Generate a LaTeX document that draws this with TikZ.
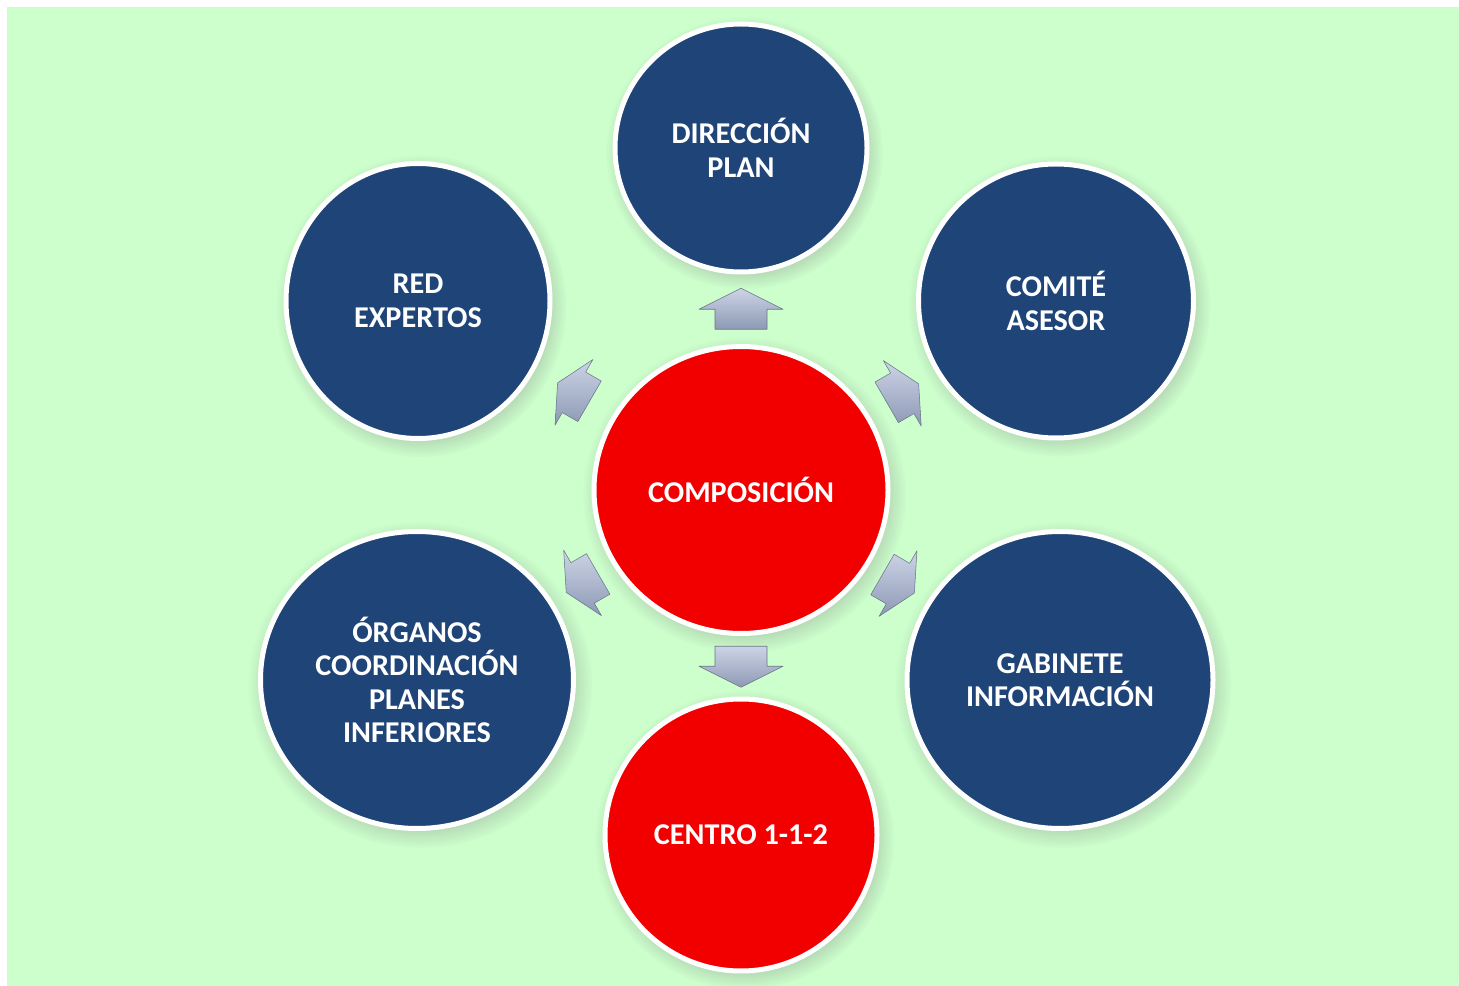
\documentclass[tikz,border=0pt]{standalone}
\usepackage{fontspec}
\setmainfont{Carlito}
\usetikzlibrary{shapes.geometric,shadows,calc}
\definecolor{fondo}{HTML}{CCFFCC}
\definecolor{azul}{HTML}{1F4478}
\definecolor{rojo}{HTML}{F20000}
\definecolor{flechaC}{HTML}{CDD4E6}
\definecolor{flechaO}{HTML}{8D99B5}
\def\px{0.2mm}
\tikzset{
  circulo/.style={ellipse, draw=white, line width=1mm, inner sep=0pt, align=center,
    text=white, font=\fontsize{17.2}{19}\selectfont\bfseries,
    circular drop shadow={shadow xshift=0.6mm, shadow yshift=-0.9mm, opacity=0.35}},
  azulc/.style={circulo, fill=azul},
  rojoc/.style={circulo, fill=rojo},
  pics/flecha/.style={code={
    \draw[flechaO!75!black, line width=0.3pt, line join=round, top color=flechaC, bottom color=flechaO]
      (-20,-26)--(0,-26)--(0,-42)--(21,0)--(0,42)--(0,26)--(-20,26)--cycle;}}
}
\begin{document}
\begin{tikzpicture}[x=\px, y=\px]
\useasboundingbox (0,0) rectangle (1459,-986);
\fill[fondo] (7,-7) rectangle (1459,-986);
\node[rojoc, minimum width=294*\px, minimum height=287*\px] (comp) at (741,-490) {COMPOSICIÓN};
\node[azulc, minimum width=252*\px, minimum height=248*\px] (dir) at (741,-148) {DIRECCIÓN\\PLAN};
\node[azulc, minimum width=275*\px, minimum height=274*\px] (com) at (1056,-301) {COMITÉ\\ASESOR};
\node[azulc, minimum width=264*\px, minimum height=275*\px] (red) at (418,-301) {RED\\EXPERTOS};
\node[azulc, minimum width=306*\px, minimum height=297*\px] (gab) at (1060,-680) {GABINETE\\INFORMACIÓN};
\node[azulc, minimum width=313*\px, minimum height=297*\px] (org) at (417,-680) {ÓRGANOS\\COORDINACIÓN\\PLANES\\INFERIORES};
\node[rojoc, minimum width=272*\px, minimum height=272*\px] (cen) at (741,-835) {CENTRO 1-1-2};
% flechas entre el centro y cada circulo
\path ($(comp.north)!0.5!(dir.south)$) pic[rotate=90] {flecha}
      ($(comp.south)!0.5!(cen.north)$) pic[rotate=-90] {flecha};
\foreach \a/\b/\ang in {150/-30/red, 30/210/com, 210/30/org, -30/150/gab}{
  \path ($(comp.\a)!0.5!(\ang.\b)$) pic[rotate=\a, scale=0.9] {flecha};
}
\end{tikzpicture}
\end{document}
